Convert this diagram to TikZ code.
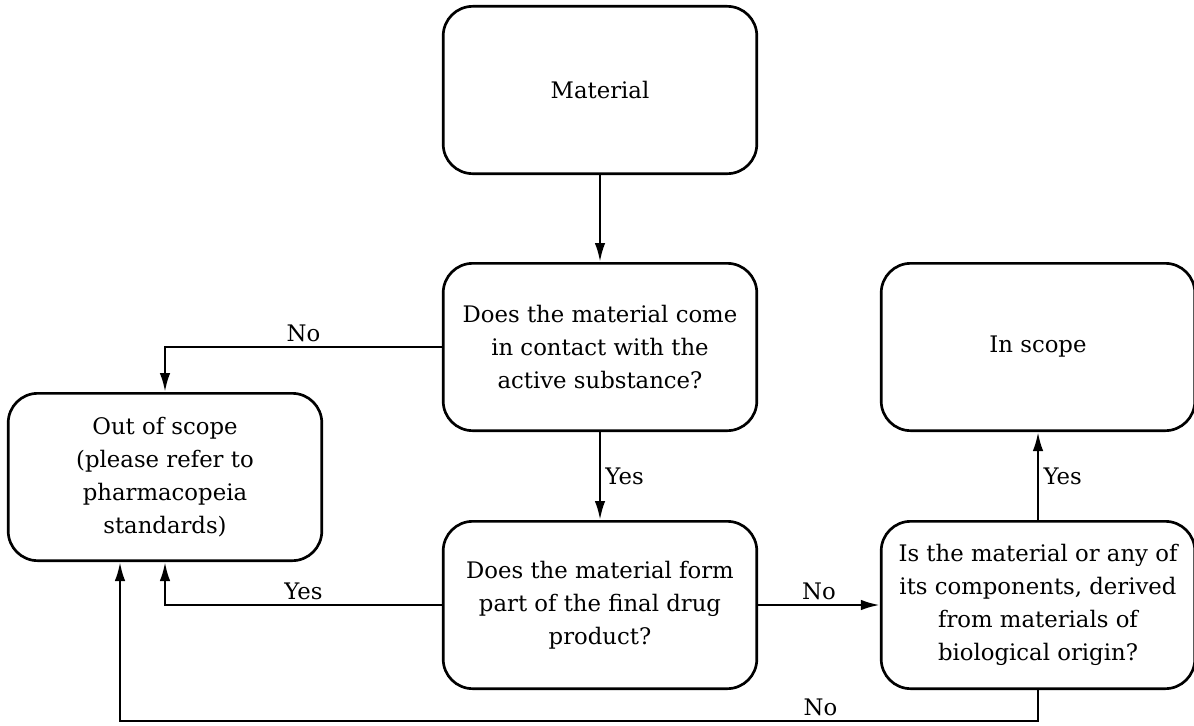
\documentclass[tikz,border=0pt]{standalone}
\usepackage{fontspec}
\setmainfont{DejaVu Serif}
\usetikzlibrary{arrows.meta, positioning}

\tikzset{
  box/.style={rectangle, draw, line width=1.9pt, rounded corners=21pt,
    minimum width=223pt, minimum height=119pt, align=center,
    font=\fontsize{16.2}{23.5}\selectfont},
  flow/.style={-{Latex[length=13.5pt,width=7.5pt]}, line width=1.8pt},
  lbl/.style={font=\fontsize{16.2}{23.5}\selectfont, inner sep=3pt}
}

\begin{document}
\begin{tikzpicture}[x=0.025cm, y=-0.025cm]
\useasboundingbox (0,0) rectangle (1194,725);

% boxes
\node[box] (material) at (600,90) {Material};
\node[box] (contact) at (600,347) {Does the material come\\in contact with the\\active substance?};
\node[box] (outscope) at (165,477) {Out of scope\\(please refer to\\pharmacopeia\\standards)};
\node[box] (partof) at (600,605) {Does the material form\\part of the final drug\\product?};
\node[box] (bio) at (1038,605) {Is the material or any of\\its components, derived\\from materials of\\biological origin?};
\node[box] (inscope) at (1038,347) {In scope};

% connections
\coordinate (outin) at ([xshift=-32pt]outscope.south);
\coordinate (turn) at ([yshift=-22pt]bio.south);
\draw[flow] (material) -- (contact);
\draw[flow] (contact.west) -- node[lbl, above] {No} (contact.west -| outscope.north) -- (outscope.north);
\draw[flow] (contact) -- node[lbl, right] {Yes} (partof);
\draw[flow] (partof.west) -- node[lbl, above] {Yes} (partof.west -| outscope.south) -- (outscope.south);
\draw[flow] (partof) -- node[lbl, above] {No} (bio);
\draw[flow] (bio) -- node[lbl, right] {Yes} (inscope);
\draw[flow] (bio.south) -- (turn) -- node[lbl, above, pos=0.237] {No} (turn -| outin) -- (outin);
\end{tikzpicture}
\end{document}
